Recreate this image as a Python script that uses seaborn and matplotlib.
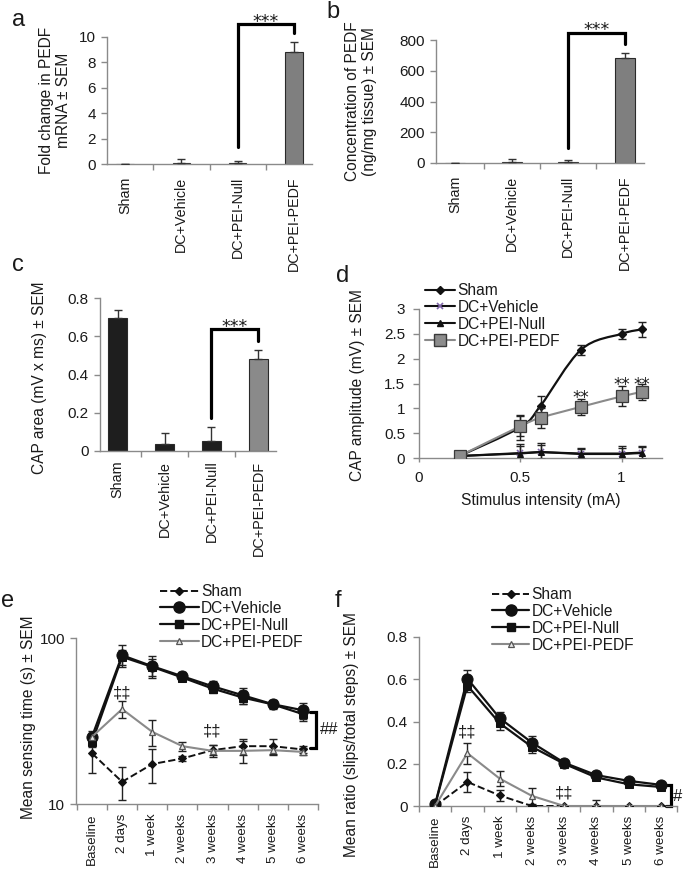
import numpy as np
import pandas as pd
import matplotlib
matplotlib.use("Agg")
import matplotlib.pyplot as plt
import seaborn as sns
from matplotlib.path import Path
from matplotlib.patches import PathPatch
from matplotlib.lines import Line2D
from matplotlib.ticker import NullLocator

# ---------------- data ----------------
bar_groups = ["Sham", "DC+Vehicle", "DC+PEI-Null", "DC+PEI-PEDF"]
mrna_mean = [0.0, 0.08, 0.08, 8.8]
mrna_sem = [0.0, 0.28, 0.18, 0.8]
conc_mean = [0.0, 8.0, 8.0, 686.0]
conc_sem = [0.0, 15.0, 9.0, 31.0]
caparea_mean = [0.696, 0.037, 0.054, 0.48]
caparea_sem = [0.042, 0.057, 0.072, 0.05]

stim_ma = [0.2, 0.5, 0.6, 0.8, 1.0, 1.1]
amp_sham = [0.04, 0.62, 1.05, 2.18, 2.5, 2.59]
amp_sham_sem = [0.0, 0.25, 0.2, 0.1, 0.1, 0.15]
amp_vehicle = [0.04, 0.10, 0.12, 0.09, 0.09, 0.11]
amp_vehicle_sem = [0.0, 0.18, 0.18, 0.12, 0.15, 0.14]
amp_null = [0.04, 0.09, 0.12, 0.08, 0.08, 0.10]
amp_null_sem = [0.0, 0.15, 0.15, 0.10, 0.12, 0.12]
amp_pedf = [0.04, 0.64, 0.81, 1.03, 1.24, 1.33]
amp_pedf_sem = [0.0, 0.2, 0.2, 0.16, 0.2, 0.17]

time_labels = ["Baseline", "2 days", "1 week", "2 weeks", "3 weeks",
               "4 weeks", "5 weeks", "6 weeks"]
sense_sham = [20.2, 13.6, 17.4, 18.8, 21.1, 22.3, 22.3, 21.3]
sense_sham_sem = [4.9, 3.1, 4.1, 0.6, 1.5, 2.5, 2.5, 1.0]
sense_vehicle = [25.4, 78.7, 67.6, 58.8, 51.2, 45.2, 39.9, 36.7]
sense_vehicle_sem = [2.0, 12.0, 10.5, 3.7, 3.6, 5.0, 2.3, 4.0]
sense_null = [23.5, 77.0, 67.0, 57.8, 49.6, 43.8, 39.8, 34.8]
sense_null_sem = [1.5, 8.0, 8.0, 3.0, 3.0, 4.0, 2.0, 3.0]
sense_pedf = [25.4, 37.3, 27.2, 22.3, 20.9, 20.9, 21.1, 20.6]
sense_pedf_sem = [1.5, 4.3, 4.7, 1.3, 1.8, 3.2, 1.2, 1.0]

ratio_sham = [0.0, 0.114, 0.05, 0.0, 0.0, 0.0, 0.0, 0.0]
ratio_sham_sem = [0.0, 0.048, 0.025, 0.0, 0.0, 0.0, 0.0, 0.0]
ratio_vehicle = [0.008, 0.603, 0.416, 0.30, 0.205, 0.146, 0.119, 0.10]
ratio_vehicle_sem = [0.005, 0.04, 0.03, 0.03, 0.01, 0.015, 0.01, 0.01]
ratio_null = [0.005, 0.57, 0.392, 0.28, 0.20, 0.135, 0.103, 0.09]
ratio_null_sem = [0.005, 0.03, 0.03, 0.03, 0.01, 0.01, 0.01, 0.01]
ratio_pedf = [0.0, 0.25, 0.13, 0.048, 0.0, 0.0, 0.0, 0.0]
ratio_pedf_sem = [0.0, 0.05, 0.035, 0.038, 0.0, 0.027, 0.0, 0.0]

# ---------------- style ----------------
sns.set_style("ticks")
plt.rcParams["font.family"] = ["Liberation Sans", "DejaVu Sans"]
TXT = "#1a1a1a"
SPINE = "#8a8a8a"
W, H = 684, 875

fig = plt.figure(figsize=(W / 100, H / 100), dpi=100)


def rect(l, r, t, b):
    return [l / W, 1 - b / H, (r - l) / W, (b - t) / H]


def style(ax, ylab, lx, ly, lab_fs=11.2):
    for s in ["top", "right"]:
        ax.spines[s].set_visible(False)
    for s in ["left", "bottom"]:
        ax.spines[s].set_color(SPINE)
        ax.spines[s].set_linewidth(1.0)
    ax.tick_params(which="both", colors=SPINE, labelcolor=TXT, width=1.0)
    ax.tick_params(axis="y", length=4, labelsize=11, pad=4)
    ax.set_ylabel(ylab, fontsize=lab_fs, color=TXT)
    ax.yaxis.set_label_coords(lx, ly)
    ax.set_xlabel("")


def cat_xticks(ax, labels, fs, pad):
    n = len(labels)
    ax.set_xticks(range(n))
    ax.set_xticklabels(labels, rotation=90, fontsize=fs)
    ax.set_xticks(np.arange(-0.5, n, 1.0), minor=True)
    ax.tick_params(axis="x", which="major", length=0, pad=pad)
    ax.tick_params(axis="x", which="minor", length=4)


def bar_panel(ax, means, sems, colors, width):
    df = pd.DataFrame({"group": bar_groups, "value": means})
    sns.barplot(data=df, x="group", y="value", hue="group",
                palette=dict(zip(bar_groups, colors)), width=width,
                edgecolor="#2a2a2a", linewidth=0.8, errorbar=None,
                legend=False, ax=ax)
    ax.errorbar(range(len(means)), means, yerr=[np.zeros(len(means)), sems],
                fmt="none", ecolor="#333333", elinewidth=1.0, capsize=3,
                capthick=1.0, zorder=5)


def stars(ax, text, x, yc, fs=12.5):
    ax.annotate(text, xy=(x, yc), xytext=(0, -0.59 * fs),
                textcoords="offset points", ha="center", va="baseline",
                fontsize=fs, color=TXT, family="DejaVu Sans",
                annotation_clip=False)


def bracket(ax, x1, x2, ylow1, yline, ylow2, ystar):
    ax.plot([x1, x1, x2, x2], [ylow1, yline, yline, ylow2], color="black",
            lw=2.3, clip_on=False, solid_joinstyle="miter")
    stars(ax, "***", (x1 + x2) / 2, ystar)


def smooth_path(x, y):
    pts = np.column_stack([x, y]).astype(float)
    n = len(pts)
    verts = [pts[0]]
    codes = [Path.MOVETO]
    for i in range(n - 1):
        p0 = pts[i - 1] if i > 0 else pts[i]
        p1 = pts[i]
        p2 = pts[i + 1]
        p3 = pts[i + 2] if i + 2 < n else pts[i + 1]
        verts += [p1 + (p2 - p0) / 6.0, p2 - (p3 - p1) / 6.0, p2]
        codes += [Path.CURVE4] * 3
    return Path(verts, codes)


# ---------------- panel a ----------------
ax = fig.add_axes(rect(107, 312, 37, 164))
bar_panel(ax, mrna_mean, mrna_sem, ["#7f7f7f"] * 4, 0.31)
ax.set_ylim(0, 10)
ax.set_yticks(range(0, 11, 2))
style(ax, "Fold change in PEDF\nmRNA ± SEM", -0.176, 0.5)
cat_xticks(ax, bar_groups, 10.3, 9)
bracket(ax, 2, 3, 1.36, 11.02, 10.3, 11.6)

# ---------------- panel b ----------------
ax = fig.add_axes(rect(436, 644, 40, 163))
bar_panel(ax, conc_mean, conc_sem, ["#7f7f7f"] * 4, 0.35)
ax.set_ylim(0, 800)
ax.set_yticks(range(0, 801, 200))
style(ax, "Concentration of PEDF\n(ng/mg tissue) ± SEM", -0.284, 0.5)
cat_xticks(ax, bar_groups, 10.3, 9)
bracket(ax, 2, 3, 98, 845, 774, 898)

# ---------------- panel c ----------------
ax = fig.add_axes(rect(100, 276, 298, 451))
bar_panel(ax, caparea_mean, caparea_sem,
          ["#1e1e1e", "#1e1e1e", "#1e1e1e", "#8a8a8a"], 0.41)
ax.set_ylim(0, 0.8)
ax.set_yticks([0, 0.2, 0.4, 0.6, 0.8])
ax.set_yticklabels(["0", "0.2", "0.4", "0.6", "0.8"])
style(ax, "CAP area (mV x ms) ± SEM", -0.30, 0.477)
cat_xticks(ax, bar_groups, 10.4, 7)
bracket(ax, 2, 3, 0.173, 0.64, 0.576, 0.675)

# ---------------- panel d ----------------
ax = fig.add_axes(rect(419, 662, 309, 458))
x = np.array(stim_ma)
ax.errorbar(x, amp_sham, yerr=amp_sham_sem, fmt="none", ecolor="#222222",
            elinewidth=1, capsize=3, capthick=1, zorder=3)
ax.add_patch(PathPatch(smooth_path(x, amp_sham), fill=False,
                       edgecolor="#111111", lw=1.6, zorder=3))
ax.plot(x, amp_sham, ls="none", marker="D", ms=4, color="#111111", zorder=4)
ax.errorbar(x, amp_vehicle, yerr=amp_vehicle_sem, fmt="none",
            ecolor="#222222", elinewidth=1, capsize=3, capthick=1, zorder=3)
sns.lineplot(x=x, y=amp_vehicle, color="#111111", lw=1.5, marker="x", ms=5,
             mec="#7f66a8", mew=1.2, ax=ax, zorder=4)
ax.errorbar(x, amp_null, yerr=amp_null_sem, fmt="none", ecolor="#222222",
            elinewidth=1, capsize=3, capthick=1, zorder=3)
sns.lineplot(x=x, y=amp_null, color="#111111", lw=1.5, marker="^", ms=5,
             mec="#111111", ax=ax, zorder=4)
ax.errorbar(x, amp_pedf, yerr=amp_pedf_sem, fmt="none", ecolor="#222222",
            elinewidth=1, capsize=3, capthick=1, zorder=5)
ax.add_patch(PathPatch(smooth_path(x, amp_pedf), fill=False,
                       edgecolor="#8a8a8a", lw=1.5, zorder=5))
ax.plot(x, amp_pedf, ls="none", marker="s", ms=8.5, mfc="#8c8c8c",
        mec="#3a3a3a", mew=0.9, zorder=6)
ax.set_xlim(0, 1.2)
ax.set_ylim(0, 3)
ax.set_xticks([0, 0.5, 1])
ax.set_xticklabels(["0", "0.5", "1"])
ax.set_yticks(np.arange(0, 3.01, 0.5))
ax.set_yticklabels(["0", "0.5", "1", "1.5", "2", "2.5", "3"])
style(ax, "CAP amplitude (mV) ± SEM", -0.222, 0.49)
ax.tick_params(axis="x", length=3, labelsize=11, pad=6)
ax.tick_params(axis="y", labelsize=11, pad=6)
ax.set_xlabel("Stimulus intensity (mA)", fontsize=11.2, color=TXT,
              labelpad=6)
for xs, yc in [(0.8, 1.3), (1.0, 1.56), (1.1, 1.56)]:
    stars(ax, "**", xs, yc, fs=12)
hd = [Line2D([], [], color="#111111", lw=1.5, marker="D", ms=4),
      Line2D([], [], color="#111111", lw=1.5, marker="x", ms=5,
             mec="#7f66a8", mew=1.2),
      Line2D([], [], color="#111111", lw=1.5, marker="^", ms=5),
      Line2D([], [], color="#8a8a8a", lw=1.5, marker="s", ms=8.5,
             mfc="#8c8c8c", mec="#3a3a3a")]
ax.legend(hd, ["Sham", "DC+Vehicle", "DC+PEI-Null", "DC+PEI-PEDF"],
          loc="upper left", bbox_to_anchor=(425 / W, 1 - 283 / H),
          bbox_transform=fig.transFigure, frameon=False, fontsize=11.2,
          handlelength=1.95, handletextpad=0.15, labelspacing=0.12,
          borderpad=0, borderaxespad=0, labelcolor=TXT)


# ---------------- panels e / f helpers ----------------
def time_series(ax, vals, sems, kind):
    idx = np.arange(len(vals))
    if kind == "sham":
        kw = dict(color="#111111", lw=1.4, ls="--", marker="D", ms=4.2,
                  mec="#111111")
    elif kind == "vehicle":
        kw = dict(color="#111111", lw=1.6, marker="o", ms=8, mec="#111111")
    elif kind == "null":
        kw = dict(color="#111111", lw=1.6, marker="s", ms=5.5, mec="#111111")
    else:
        kw = dict(color="#8a8a8a", lw=1.5, marker="^", ms=4.8,
                  mfc="#e6e6e6", mec="#555555", mew=0.9)
    ax.errorbar(idx, vals, yerr=sems, fmt="none", ecolor="#222222",
                elinewidth=1, capsize=3, capthick=1, zorder=3)
    sns.lineplot(x=idx, y=vals, ax=ax, zorder=4, **kw)
    return kw


def ts_legend(ax, kws, x0, ytop, hl):
    hd = [Line2D([], [], **k) for k in kws]
    ax.legend(hd, ["Sham", "DC+Vehicle", "DC+PEI-Null", "DC+PEI-PEDF"],
              loc="upper left", bbox_to_anchor=(x0 / W, 1 - ytop / H),
              bbox_transform=fig.transFigure, frameon=False, fontsize=11.2,
              handlelength=hl, handletextpad=0.15, labelspacing=0.12,
              borderpad=0, borderaxespad=0, labelcolor=TXT)


def dagger(ax, x, y):
    ax.text(x, y, "‡‡", ha="center", va="center", fontsize=12, color=TXT)


# ---------------- panel e ----------------
ax = fig.add_axes(rect(76, 318, 638, 804))
ax.set_yscale("log")
kws = [time_series(ax, sense_sham, sense_sham_sem, "sham"),
       time_series(ax, sense_vehicle, sense_vehicle_sem, "vehicle"),
       time_series(ax, sense_null, sense_null_sem, "null"),
       time_series(ax, sense_pedf, sense_pedf_sem, "pedf")]
ax.set_xlim(-0.53, 7.46)
ax.set_ylim(10, 100)
ax.set_yticks([10, 100])
ax.set_yticklabels(["10", "100"])
ax.yaxis.set_minor_locator(NullLocator())
style(ax, "Mean sensing time (s) ± SEM", -0.165, 0.52)
cat_xticks(ax, time_labels, 9.6, 7)
dagger(ax, 1, 46.6)
dagger(ax, 4, 27.5)
ax.plot([7.23, 7.43, 7.43, 7.23], [36, 36, 21.6, 21.6], color="black",
        lw=2.3, clip_on=False, solid_joinstyle="miter")
ax.text(7.55, 28, "##", ha="left", va="center", fontsize=12, color=TXT,
        clip_on=False)
ts_legend(ax, kws, 160, 584, 2.5)

# ---------------- panel f ----------------
ax = fig.add_axes(rect(419, 677, 637, 806))
kws = [time_series(ax, ratio_sham, ratio_sham_sem, "sham"),
       time_series(ax, ratio_vehicle, ratio_vehicle_sem, "vehicle"),
       time_series(ax, ratio_null, ratio_null_sem, "null"),
       time_series(ax, ratio_pedf, ratio_pedf_sem, "pedf")]
ax.set_xlim(-0.43, 7.46)
ax.set_ylim(0, 0.8)
ax.set_yticks([0, 0.2, 0.4, 0.6, 0.8])
ax.set_yticklabels(["0", "0.2", "0.4", "0.6", "0.8"])
style(ax, "Mean ratio (slips/total steps) ± SEM", -0.233, 0.42)
cat_xticks(ax, time_labels, 9.6, 7)
dagger(ax, 1, 0.35)
dagger(ax, 4, 0.06)
ax.plot([7.16, 7.31, 7.31, 7.16], [0.10, 0.10, 0.0, 0.0], color="black",
        lw=2.3, clip_on=False, solid_joinstyle="miter")
ax.text(7.36, 0.045, "#", ha="left", va="center", fontsize=12, color=TXT,
        clip_on=False)
ts_legend(ax, kws, 492, 587, 2.4)

# ---------------- panel letters ----------------
for lab, px, py in [("a", 19, 20), ("b", 333, 12), ("c", 18, 265),
                    ("d", 343, 276), ("e", 8, 601), ("f", 338, 601)]:
    fig.text(px / W, 1 - py / H, lab, ha="center", va="center", fontsize=17,
             color=TXT)

fig.savefig("out.png", dpi=100)
